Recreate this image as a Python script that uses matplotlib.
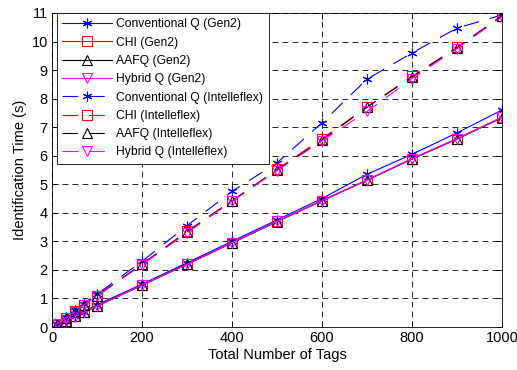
import matplotlib
matplotlib.use("Agg")
import matplotlib.pyplot as plt

plt.rcParams['font.family'] = ['Liberation Sans', 'DejaVu Sans']

tags = [10, 30, 50, 70, 100, 200, 300, 400, 500, 600, 700, 800, 900, 1000]

conv_gen2 = [0.08, 0.23, 0.38, 0.54, 0.78, 1.50, 2.25, 3.00, 3.75, 4.50, 5.35, 6.05, 6.80, 7.60]
chi_gen2 = [0.07, 0.22, 0.37, 0.51, 0.73, 1.47, 2.20, 2.95, 3.70, 4.43, 5.15, 5.90, 6.60, 7.35]
aafq_gen2 = [0.07, 0.22, 0.37, 0.51, 0.73, 1.46, 2.20, 2.94, 3.69, 4.42, 5.14, 5.88, 6.58, 7.33]
hyb_gen2 = [0.07, 0.22, 0.36, 0.51, 0.73, 1.47, 2.19, 2.95, 3.70, 4.42, 5.15, 5.89, 6.59, 7.34]

conv_ifx = [0.12, 0.35, 0.58, 0.82, 1.15, 2.30, 3.55, 4.75, 5.75, 7.15, 8.68, 9.60, 10.47, 10.93]
chi_ifx = [0.11, 0.33, 0.55, 0.77, 1.10, 2.20, 3.35, 4.42, 5.52, 6.60, 7.70, 8.78, 9.80, 10.90]
aafq_ifx = [0.11, 0.33, 0.55, 0.77, 1.10, 2.20, 3.33, 4.42, 5.50, 6.55, 7.70, 8.76, 9.78, 10.90]
hyb_ifx = [0.10, 0.32, 0.54, 0.76, 1.08, 2.18, 3.30, 4.40, 5.48, 6.52, 7.55, 8.70, 9.75, 10.87]

labels = ['Conventional Q (Gen2)', 'CHI (Gen2)', 'AAFQ (Gen2)', 'Hybrid Q (Gen2)',
          'Conventional Q (Intelleflex)', 'CHI (Intelleflex)', 'AAFQ (Intelleflex)',
          'Hybrid Q (Intelleflex)']
xticks = [0, 200, 400, 600, 800, 1000]
yticks = list(range(0, 12))

series = [conv_gen2, chi_gen2, aafq_gen2, hyb_gen2, conv_ifx, chi_ifx, aafq_ifx, hyb_ifx]
colors = ['#0000ff', '#ff0000', '#000000', '#ff00ff'] * 2
markers = [(6, 2, 0), 's', '^', 'v'] * 2
styles = ['-'] * 4 + [(0, (14, 10))] * 4

fig = plt.figure(figsize=(5.17, 3.70), dpi=100)
ax = fig.add_axes([0.1006, 0.1162, 0.8704, 0.8488])

for ys, c, m, ls, lab in zip(series, colors, markers, styles, labels):
    ax.plot(tags, ys, color=c, linestyle=ls, marker=m,
            markersize=7 if isinstance(m, tuple) else 6.5,
            markerfacecolor='none', markeredgecolor=c, linewidth=0.8,
            markeredgewidth=0.8, label=lab)

ax.set_xlim(0, 1000)
ax.set_ylim(0, 11)
ax.set_xticks(xticks)
ax.set_yticks(yticks)
ax.tick_params(direction='in', length=4, labelsize=10.5, top=True, right=True,
               width=0.6, pad=3)
ax.grid(True, color='black', linestyle=(0, (7, 5)), linewidth=0.6)
for s in ax.spines.values():
    s.set_linewidth(0.6)
ax.set_xlabel('Total Number of Tags', fontsize=10.5, labelpad=2)
ax.set_ylabel('Identification Time (s)', fontsize=10.5, labelpad=3)

leg = ax.legend(loc='upper left', bbox_to_anchor=(0.011, 1.0), borderaxespad=0,
                fontsize=8.7, frameon=True, fancybox=False,
                edgecolor='black', handlelength=4.1,
                labelspacing=0.52, borderpad=0.45, handletextpad=0.35, framealpha=1)
leg.get_frame().set_linewidth(0.6)

fig.savefig('out.png', dpi=100)
